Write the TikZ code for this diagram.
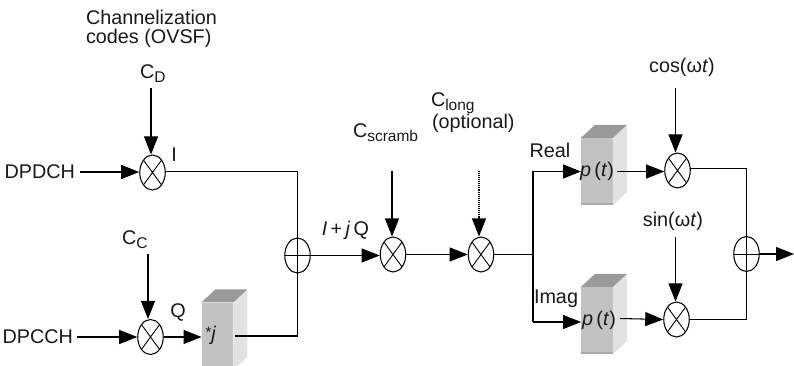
\documentclass[tikz,border=0pt]{standalone}
\usepackage{fontspec}
\setmainfont{Liberation Sans}
\usetikzlibrary{arrows.meta,shapes.geometric,calc}
\tikzset{
  x=1pt,y=-1pt,
  wire/.style={line width=1.05pt,line join=miter},
  flow/.style={wire,-{Triangle[length=18pt,width=14pt]}},
  lbl/.style={inner sep=0pt,outer sep=0pt,font=\fontsize{19.8}{22}\selectfont,text=black!90},
  circ/.style={ellipse,draw,line width=1.05pt,inner sep=0pt,minimum width=25.5pt,minimum height=35pt,fill=white},
  mixer/.style={circ,path picture={
    \draw[line width=0.9pt] (path picture bounding box.north west)--(path picture bounding box.south east)
      (path picture bounding box.north east)--(path picture bounding box.south west);}},
  adder/.style={circ,fill=none,path picture={
    \draw[line width=0.9pt] (path picture bounding box.north)--(path picture bounding box.south)
      (path picture bounding box.east)--(path picture bounding box.west);}},
  front/.style={fill=boxfront,draw=none,inner sep=0pt,minimum width=31.5pt},
}
\definecolor{boxfront}{HTML}{C2C2C2}
\definecolor{boxside}{HTML}{E2E2E2}
\definecolor{boxtop}{HTML}{9A9A9A}
\definecolor{boxbase}{HTML}{ABABAB}
\newcommand{\blockshade}[1]{%
  \fill[boxside] (#1.north east) -- ++(14,-13) -- ($(#1.south east)+(14,-13)$) -- (#1.south east) -- cycle;
  \fill[boxtop] (#1.north west) -- ++(14,-13) -- ($(#1.north east)+(14,-13)$) -- (#1.north east) -- cycle;
  \fill[boxbase] (#1.south west) rectangle ($(#1.south east)+(0,-2)$);
}
\newcommand{\lowidx}[1]{\raisebox{-4pt}{\fontsize{15.5}{17}\selectfont #1}}
\begin{document}
\begin{tikzpicture}
\useasboundingbox (0,0) rectangle (794,366);
% multipliers
\node[mixer] (m1) at (152.5,172.5) {};
\node[mixer] (m2) at (150.5,337) {};
\node[adder] (a1) at (297.5,255.5) {};
\node[mixer] (m3) at (393,254.5) {};
\node[mixer] (m4) at (481,254.5) {};
\node[mixer] (m5) at (677.5,170.5) {};
\node[mixer] (m6) at (676.5,319.5) {};
\node[adder] (a2) at (746.5,254) {};
% blocks
\node[front,minimum height=67pt] (bj) at (217.5,336) {};
\node[front,minimum height=67pt] (bp) at (597,171.5) {};
\node[front,minimum height=67pt] (bq) at (597,320.5) {};
\blockshade{bj}\blockshade{bp}\blockshade{bq}
\node[lbl] (lj) at (211,335) {\raisebox{3pt}{\fontsize{15}{15}\selectfont *}\textit{j}};
\node[lbl] (pu) at (597,171) {\textit{p}\,(\textit{t})};
\node[lbl] (pl) at (599,320) {\textit{p}\,(\textit{t})};
% labels
\node[lbl,anchor=west] (chan) at (86,17) {Channelization};
\node[lbl,anchor=west] (ovsf) at (86,38) {codes (OVSF)};
\node[lbl,anchor=base west] (cd) at (140,79) {C\lowidx{D}};
\node[lbl,anchor=base west] (cc) at (122,244) {C\lowidx{C}};
\node[lbl,anchor=east] (dpdch) at (75,172) {DPDCH};
\node[lbl,anchor=east] (dpcch) at (73,337) {DPCCH};
\node[lbl] (li) at (174,155) {I};
\node[lbl] (lq) at (178,312) {Q};
\node[lbl] (iq) at (345.5,230) {\textit{I}\,+\,\textit{j}\,Q};
\node[lbl,anchor=base west] (csc) at (353,138) {C\lowidx{scramb}};
\node[lbl,anchor=base west] (clo) at (431,107) {C\lowidx{long}};
\node[lbl,anchor=west] (opt) at (432,123) {(optional)};
\node[lbl] (lre) at (550,150) {Real};
\node[lbl] (lim) at (556,299) {Imag};
\node[lbl] (cos) at (682,67) {cos(ω\textit{t})};
\node[lbl] (sin) at (673,221) {sin(ω\textit{t})};
% free ends
\coordinate (s1) at (151,88);
\coordinate (s2) at (148,254);
\coordinate (s3) at (392,171);
\coordinate (s4) at (479,171);
\coordinate (s5) at (675.5,88);
\coordinate (s6) at (675.5,237);
\coordinate (j1) at (533,254.5);
\coordinate (tr) at (533,171.5);
\coordinate (ti) at (533,322);
\coordinate (out) at (794,254);
% connectors
\draw[flow] (s1) -- (s1 |- m1.north);
\draw[flow] (s2) -- (s2 |- m2.north);
\draw[flow] (s3) -- (s3 |- m3.north);
\draw[wire,densely dotted] (s4) -- ++(0,46);
\draw[flow,shorten <=46pt] (s4) -- (s4 |- m4.north);
\draw[flow] (s5) -- (s5 |- m5.north);
\draw[flow] (s6) -- (s6 |- m6.north);
\draw[flow] ($(dpdch.east)+(5,0)$) -- (m1.west |- dpdch);
\draw[flow] ($(dpcch.east)+(4,0)$) -- (m2.west);
\draw[flow] (m2.east) -- (bj.west |- m2);
\draw[wire] (m1.east) -- ++(0,-1) -| (a1.north);
\draw[wire] (a1.north) -- (a1.south);
\draw[wire] ($(bj.east)+(1.5,0)$) -| (a1.south);
\draw[flow] (a1.east) -- (m3.west |- a1);
\draw[flow] (m3.east) -- (m4.west);
\draw[wire] (m4.east) -- (j1);
\draw[wire] (ti) -- (tr);
\draw[flow] (tr) -- (bp.west |- tr);
\draw[flow] (ti) -- (bq.west |- ti);
\draw[flow] ($(bp.east)+(4,0)$) -- (m5.west |- bp);
\draw[flow] ($(bq.east)+(7,-2)$) -- (m6.west);
\draw[wire] (m5.east) -- ++(0,-2) -| (a2.north);
\draw[wire] (m6.east) -| (a2.south);
\draw[wire] (a2.north) -- (a2.south);
\draw[flow] (a2.east) -- (out);
\end{tikzpicture}
\end{document}
